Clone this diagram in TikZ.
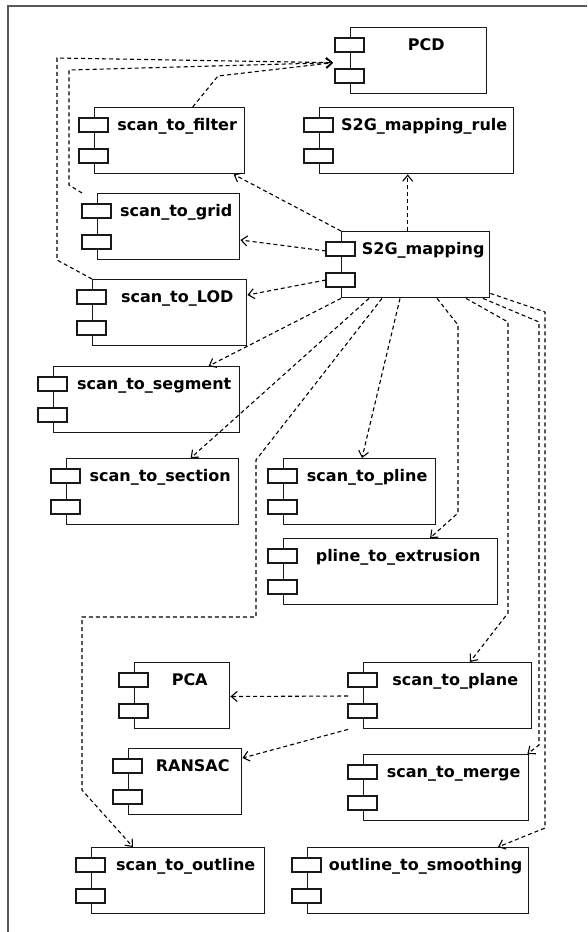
\documentclass[tikz,border=0pt]{standalone}
\usepackage{fontspec}
\setmainfont{DejaVu Sans}
\usepackage{tikz}
\usetikzlibrary{arrows.meta}

% component box: name, left, top, width, text
\newcommand{\component}[5]{%
	\node[compbox, minimum width=#4] (#1) at (#2,#3) {};
	\node[complabel] (#1-text) at ([xshift=7.5pt, yshift=-23pt]#1.north) {#5};
	\draw[stub] ([shift={(-15pt,-11pt)}]#1.north west) rectangle ++(29pt,-14pt);
	\draw[stub] ([shift={(-15pt,-42pt)}]#1.north west) rectangle ++(29pt,-14pt);
}

\begin{document}
\begin{tikzpicture}[x=1pt, y=-1pt,
	compbox/.style={draw=black!90, line width=1.4pt, fill=white, anchor=north west, minimum height=66pt, inner sep=0pt},
	complabel/.style={anchor=base, inner sep=0pt, text=black, font=\bfseries\fontsize{16}{19}\selectfont},
	stub/.style={draw=black!90, line width=1.1pt, fill=white},
	dep/.style={black, line width=1.1pt, dash pattern=on 4pt off 3pt, -{Straight Barb[length=6pt, width=10pt]}},
	frame/.style={draw=black!65, line width=1.5pt}]

	\useasboundingbox (0,0) rectangle (587,932);
	\draw[frame] (8,932) -- (8,6) -- (587,6);

	%top row
	\component{pcd}{350}{27}{136}{PCD}
	\component{rule}{319}{107}{194}{S2G\_mapping\_rule}
	\component{filter}{94}{107}{150}{scan\_to\_filter}

	%left column
	\component{grid}{97}{193}{142}{scan\_to\_grid}
	\component{map}{341}{231}{148}{S2G\_mapping}
	\component{lod}{92}{279}{154}{scan\_to\_LOD}
	\component{segment}{53}{366}{186}{scan\_to\_segment}
	\component{section}{66}{458}{172}{scan\_to\_section}

	%middle
	\component{pline}{283}{458}{152}{scan\_to\_pline}
	\component{extrusion}{283}{538}{214}{pline\_to\_extrusion}
	\component{plane}{363}{662}{168}{scan\_to\_plane}
	\component{pca}{134}{662}{95}{PCA}
	\component{ransac}{128}{748}{113}{RANSAC}
	\component{merge}{363}{754}{165}{scan\_to\_merge}

	%bottom row
	\component{outline}{91}{847}{173}{scan\_to\_outline}
	\component{smoothing}{307}{847}{221}{outline\_to\_smoothing}

	%into PCD
	\coordinate (pcd-in) at ([xshift=-17pt, yshift=-2pt]pcd.west);
	\draw[dep] ([xshift=23pt]filter.north) -- (218,76) -- (pcd-in);
	\draw[dep] ([xshift=-15pt]grid.north west) -- (69,185) -- (69,70) -- (pcd-in);
	\draw[dep] (lod.north west) -- (57,260) -- (57,58) -- (pcd-in);

	%out of S2G_mapping
	\draw[dep] ([xshift=-8pt]map.north) -- ([xshift=-9pt]rule.south);
	\draw[dep] (map.north west) -- ([xshift=64pt]filter.south);
	\draw[dep] ([shift={(-15pt,-20pt)}]map.north west) -- ([yshift=-47pt]grid.north east);
	\draw[dep] ([shift={(-15pt,-49pt)}]map.north west) -- ([yshift=-16pt]lod.north east);
	\draw[dep] (map.south west) -- ([xshift=62pt]segment.north);
	\draw[dep] ([xshift=28pt]map.south west) -- ([xshift=38pt]section.north);
	\draw[dep] ([xshift=59pt]map.south west) -- ([xshift=79pt]pline.north west);
	\draw[dep] ([xshift=41pt]map.south west) -- (256,460) -- (256,617) -- (82,617) -- (82,790) -- ([xshift=42pt]outline.north west);
	\draw[dep] ([xshift=96pt]map.south west) -- (458,325) -- (458,513) -- ([xshift=147pt]extrusion.north west);
	\draw[dep] ([xshift=125pt]map.south west) -- (508,322) -- (508,613) -- ([xshift=107pt]plane.north west);
	\draw[dep] ([xshift=142pt]map.south west) -- (539,322) -- (539,745) -- ([xshift=-2pt]merge.north east);
	\draw[dep] ([yshift=5pt]map.south east) -- (545,312) -- (545,828) -- (535,832) -- ([xshift=191pt]smoothing.north west);

	%out of scan_to_plane
	\draw[dep] ([shift={(-15pt,-34pt)}]plane.north west) -- ([yshift=-34.5pt]pca.north east);
	\draw[dep] ([xshift=-15pt]plane.south west) -- ([yshift=-10pt]ransac.north east);

\end{tikzpicture}
\end{document}
